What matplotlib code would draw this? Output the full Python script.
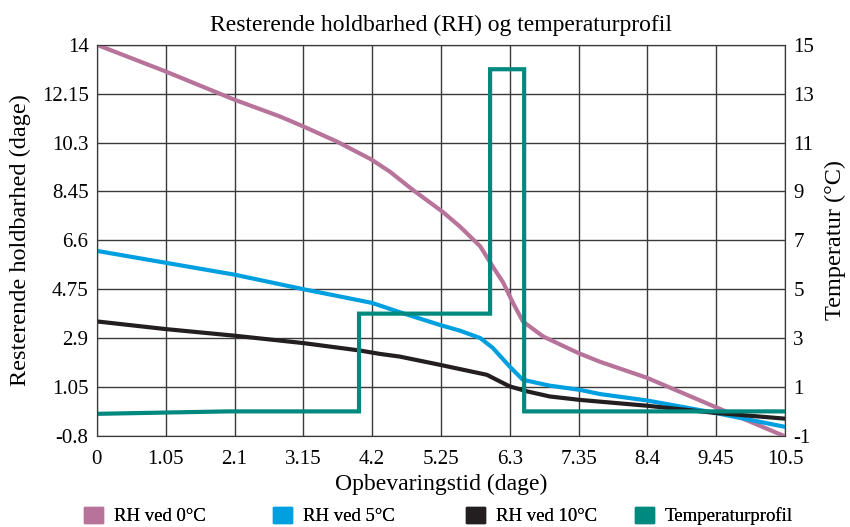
import numpy as np
import matplotlib.pyplot as plt
from matplotlib.patches import Patch

plt.rcParams['font.family'] = ['Liberation Serif', 'DejaVu Serif']

# x positions (dage) for each curve
x_rh0 = [0, 1.05, 2.1, 2.79, 3.15, 3.66, 4.18, 4.47, 4.82, 5.27, 5.54, 5.85, 6.04, 6.2,
         6.35, 6.5, 6.81, 7.34, 7.68, 8.39, 9.43, 10.5]
rh0 = [14, 12.99, 11.92, 11.29, 10.91, 10.34, 9.67, 9.2, 8.51, 7.69, 7.12, 6.37, 5.61, 5.0,
       4.23, 3.53, 2.96, 2.34, 2.0, 1.4, 0.3, -0.82]

x_rh5 = [0, 2.1, 3.15, 4.2, 4.62, 5.23, 5.54, 5.85, 6.04, 6.3, 6.5, 6.91, 7.37, 7.68, 8.39, 9.43, 10.5]
rh5 = [6.2, 5.3, 4.75, 4.23, 3.88, 3.4, 3.18, 2.9, 2.53, 1.82, 1.32, 1.1, 0.94, 0.78, 0.54, 0.07, -0.46]

x_rh10 = [0, 1.05, 2.1, 3.15, 4.01, 4.32, 4.62, 5.23, 5.95, 6.3, 6.57, 6.91, 7.37, 8.39, 9.43, 10.5]
rh10 = [3.53, 3.24, 2.99, 2.71, 2.43, 2.3, 2.2, 1.89, 1.51, 1.07, 0.88, 0.69, 0.56, 0.34, 0.07, -0.15]

x_temp = [0, 2.0, 4.0, 4.0, 6.0, 6.0, 6.52, 6.52, 10.5]
temp = [-0.1, 0, 0, 4, 4, 14, 14, 0, 0]

left_ticks = [-0.8, 1.05, 2.9, 4.75, 6.6, 8.45, 10.3, 12.15, 14]
left_labels = ['-0.8', '1.05', '2.9', '4.75', '6.6', '8.45', '10.3', '12.15', '14']
right_ticks = [-1, 1, 3, 5, 7, 9, 11, 13, 15]
x_ticks = [0, 1.05, 2.1, 3.15, 4.2, 5.25, 6.3, 7.35, 8.4, 9.45, 10.5]
x_labels = ['0', '1.05', '2.1', '3.15', '4.2', '5.25', '6.3', '7.35', '8.4', '9.45', '10.5']

c0, c5, c10, ct = '#B8739A', '#00A0E0', '#231F20', '#00897F'

fig = plt.figure(figsize=(8.5, 5.27), dpi=100)
ax = fig.add_axes([0.114, 0.173, 0.8095, 0.742])
ax2 = ax.twinx()

ax.plot(x_rh0, rh0, color=c0, lw=3, zorder=3)
ax.plot(x_rh5, rh5, color=c5, lw=3, zorder=3)
ax.plot(x_rh10, rh10, color=c10, lw=3, zorder=3)
ax2.plot(x_temp, temp, color=ct, lw=3, solid_joinstyle='miter')

ax.set_xlim(0, 10.5)
ax.set_ylim(-0.8, 14)
ax2.set_ylim(-1, 15)
ax.set_xticks(x_ticks, x_labels)
ax.set_yticks(left_ticks, left_labels)
ax2.set_yticks(right_ticks, [str(t) for t in right_ticks])
ax.grid(True, color='#3a3a3a', lw=1)
ax.set_axisbelow(True)
for a in (ax, ax2):
    a.tick_params(length=0, labelsize=15, pad=6)
    for s in a.spines.values():
        s.set_color('#3a3a3a')
ax.tick_params(axis='x', pad=10)

ax.set_xlabel('Opbevaringstid (dage)', fontsize=17, labelpad=4)
ax.set_ylabel('Resterende holdbarhed (dage)', fontsize=17.5, labelpad=8)
ax2.set_ylabel('Temperatur (°C)', fontsize=17.5, labelpad=8)
ax.set_title('Resterende holdbarhed (RH) og temperaturprofil', fontsize=17, pad=10)

handles = [Patch(color=c0), Patch(color=c5), Patch(color=c10), Patch(color=ct)]
labels = ['RH ved 0°C', 'RH ved 5°C', 'RH ved 10°C', 'Temperaturprofil']
leg_x = [84, 273, 466, 635]
for h, l, lx in zip(handles, labels, leg_x):
    lg = fig.legend([h], [l], loc='center left', frameon=False, fontsize=13.5,
                    handlelength=1.0, handleheight=1.0, handletextpad=0.6,
                    borderpad=0, borderaxespad=0,
                    bbox_to_anchor=(lx / 850, 1 - 516 / 527))
    fig.add_artist(lg)

fig.savefig('out.png', dpi=100)
